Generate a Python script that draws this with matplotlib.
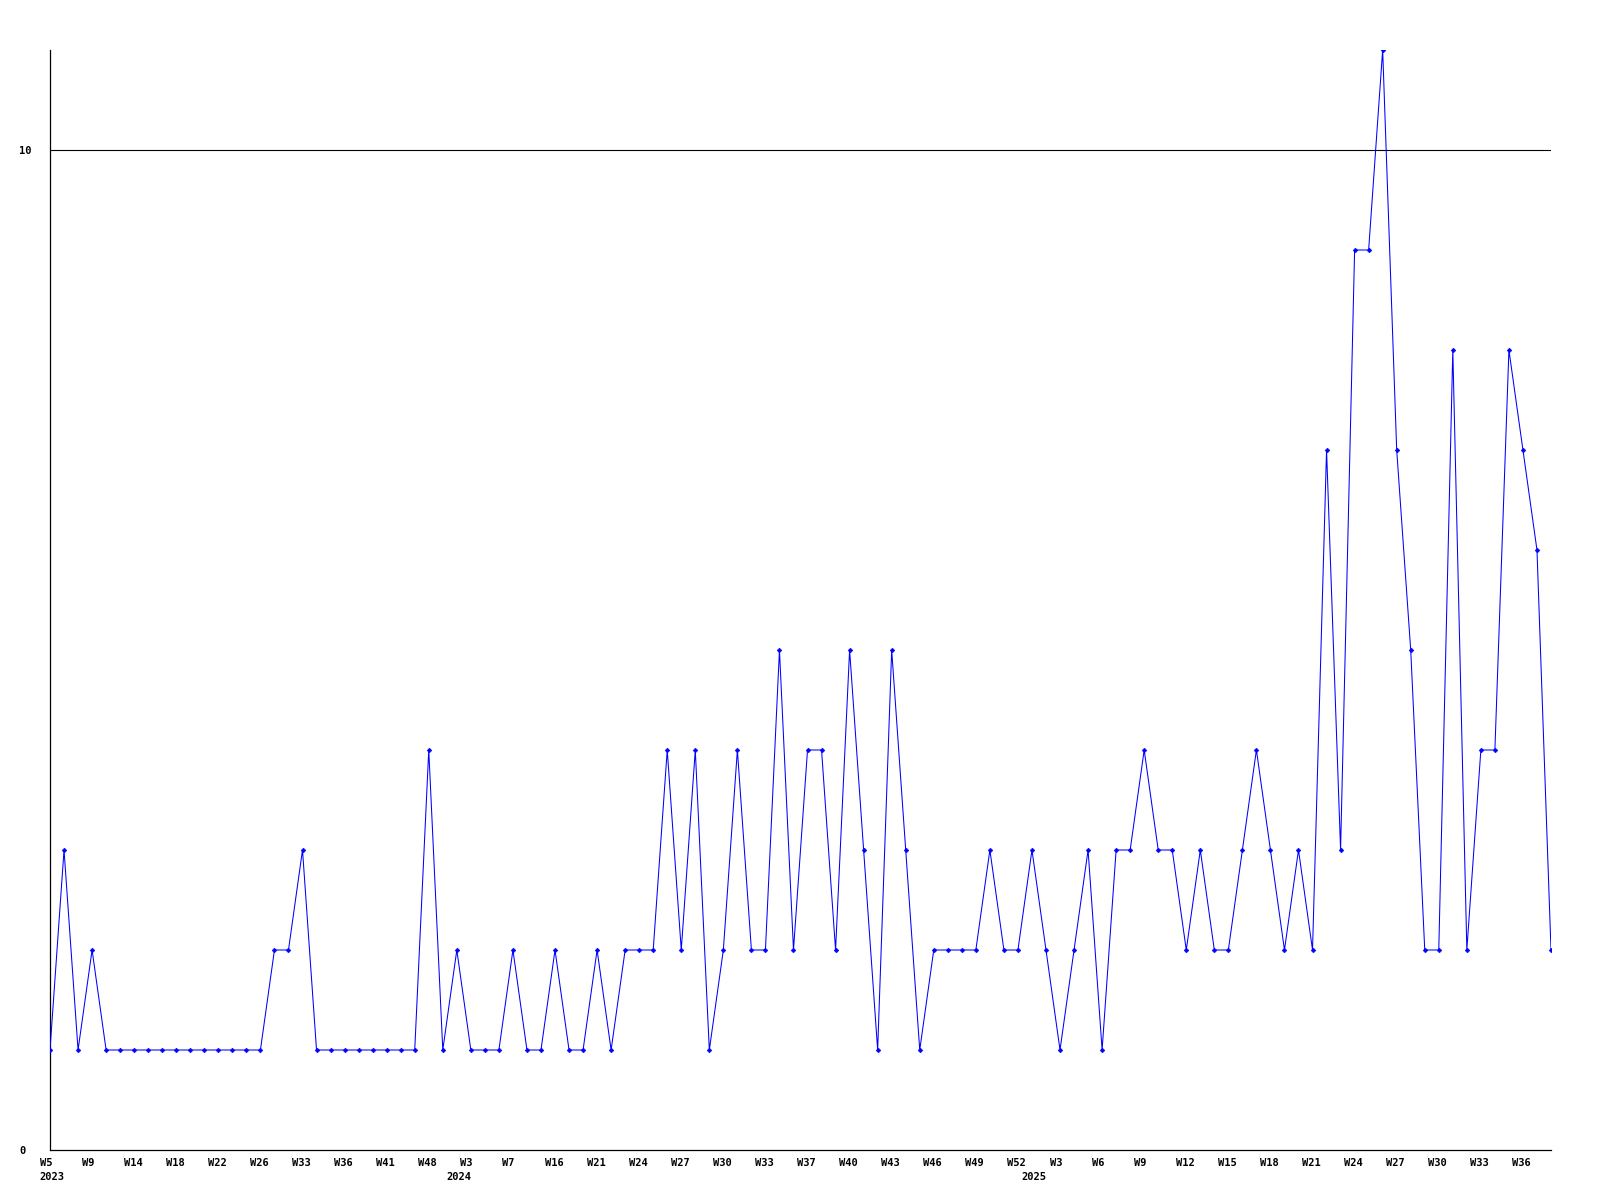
#!/usr/bin/env python3
import matplotlib
matplotlib.use("Agg")
import matplotlib.pyplot as plt
from matplotlib.transforms import ScaledTranslation, blended_transform_factory

# weekly counts, one point per week that has data
values = [
    1, 3, 1, 2, 1, 1, 1, 1, 1, 1, 1, 1, 1, 1, 1, 1, 2, 2, 3, 1,
    1, 1, 1, 1, 1, 1, 1, 4, 1, 2, 1, 1, 1, 2, 1, 1, 2, 1, 1, 2,
    1, 2, 2, 2, 4, 2, 4, 1, 2, 4, 2, 2, 5, 2, 4, 4, 2, 5, 3, 1,
    5, 3, 1, 2, 2, 2, 2, 3, 2, 2, 3, 2, 1, 2, 3, 1, 3, 3, 4, 3,
    3, 2, 3, 2, 2, 3, 4, 3, 2, 3, 2, 7, 3, 9, 9, 11, 7, 5, 2, 2,
    8, 2, 4, 4, 8, 7, 6, 2,
]

# every third point is labelled
week_labels = [
    "W5", "W9", "W14", "W18", "W22", "W26", "W33", "W36", "W41", "W48",
    "W3", "W7", "W16", "W21", "W24", "W27", "W30", "W33", "W37", "W40",
    "W43", "W46", "W49", "W52", "W3", "W6", "W9", "W12", "W15", "W18",
    "W21", "W24", "W27", "W30", "W33", "W36",
]
label_step = 3

years = ["2023", "2024", "2025"]
year_start = [0, 29, 70]  # index of first point in each year

y_ticks = [0, 10]
threshold = 10


def main() -> None:
    fig = plt.figure(figsize=(16, 12), dpi=100)
    ax = fig.add_axes([50 / 1600, 50 / 1200, 1501 / 1600, 1100 / 1200])

    x = list(range(len(values)))
    ax.axhline(threshold, color="black", linewidth=0.8, zorder=1)
    ax.plot(x, values, color="#0000ff", linewidth=0.75, marker="D", markersize=2.4,
            markeredgewidth=0.4, zorder=3)

    ax.set_xlim(0, len(values) - 1)
    ax.set_ylim(0, 11)

    for side in ("top", "right"):
        ax.spines[side].set_visible(False)
    for side in ("left", "bottom"):
        ax.spines[side].set_color("black")
        ax.spines[side].set_linewidth(0.9)

    font = dict(family="DejaVu Sans Mono", fontweight="bold", fontsize=7.5)

    ax.set_yticks(y_ticks)
    ax.set_yticklabels([str(v) for v in y_ticks], ha="left", **font)
    ax.tick_params(axis="y", length=0, pad=22)

    # x labels drawn as text, left edge a few pixels before the point
    ax.set_xticks([])
    shift = ScaledTranslation(-10.5 / 100, 0, fig.dpi_scale_trans)
    trans = blended_transform_factory(ax.transData, ax.transAxes) + shift
    for i, lab in enumerate(week_labels):
        ax.text(i * label_step, -12.5 / 1100, lab, transform=trans,
                ha="left", va="center", **font)
    for pos, yr in zip(year_start, years):
        ax.text(pos, -27.5 / 1100, yr, transform=trans,
                ha="left", va="center", **font)

    fig.savefig("out.png", dpi=100, facecolor="white")


if __name__ == "__main__":
    main()
